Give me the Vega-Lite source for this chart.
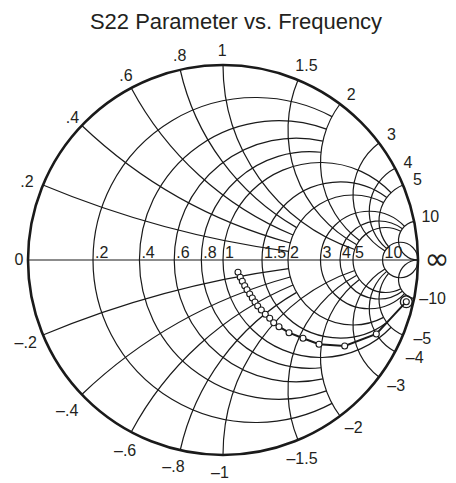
{
  "$schema": "https://vega.github.io/schema/vega-lite/v6.json",
  "autosize": "none",
  "width": 390,
  "height": 390,
  "padding": {"left": 28, "top": 65, "right": 38, "bottom": 28},
  "background": "white",
  "title": {"text": "S22 Parameter vs. Frequency", "font": "Liberation Sans", "fontSize": 22, "fontWeight": "normal", "color": "#231f20", "anchor": "middle", "frame": "group", "dx": 13, "baseline": "alphabetic", "offset": -8},
  "config": {"view": {"stroke": null}},
  "datasets": {
    "outer": [{"cx": 0, "cy": 0, "R": 1, "t1": 0, "t2": 6.4}],
    "grid": [
      {"kind": "r", "v": 0.2, "cx": 0.166667, "cy": 0, "R": 0.833333, "t1": -3.63155, "t2": 0.489958},
      {"kind": "r", "v": 0.4, "cx": 0.285714, "cy": 0, "R": 0.714286, "t1": -3.490937, "t2": 0.349345},
      {"kind": "r", "v": 0.6, "cx": 0.375, "cy": 0, "R": 0.625, "t1": -3.362906, "t2": 0.221314},
      {"kind": "r", "v": 0.8, "cx": 0.444444, "cy": 0, "R": 0.555556, "t1": -3.246758, "t2": 0.105166},
      {"kind": "r", "v": 1, "cx": 0.5, "cy": 0, "R": 0.5, "t1": -3.951376, "t2": 0.809784},
      {"kind": "r", "v": 1.5, "cx": 0.6, "cy": 0, "R": 0.4, "t1": -3.785093, "t2": 0.643501},
      {"kind": "r", "v": 2, "cx": 0.666667, "cy": 0, "R": 0.333333, "t1": -3.63155, "t2": 0.489958},
      {"kind": "r", "v": 3, "cx": 0.75, "cy": 0, "R": 0.25, "t1": -3.951376, "t2": 0.809784},
      {"kind": "r", "v": 4, "cx": 0.8, "cy": 0, "R": 0.2, "t1": -3.785093, "t2": 0.643501},
      {"kind": "r", "v": 5, "cx": 0.833333, "cy": 0, "R": 0.166667, "t1": -3.63155, "t2": 0.489958},
      {"kind": "r", "v": 10, "cx": 0.909091, "cy": 0, "R": 0.090909, "t1": -4.712389, "t2": 1.570796},
      {"kind": "x", "v": 0.2, "cx": 1, "cy": 5, "R": 5, "t1": 3.536384, "t2": 3.27473},
      {"kind": "x", "v": 0.4, "cx": 1, "cy": 2.5, "R": 2.5, "t1": 3.902606, "t2": 3.406697},
      {"kind": "x", "v": 0.6, "cx": 1, "cy": 1.666667, "R": 1.666667, "t1": 4.222432, "t2": 3.536384},
      {"kind": "x", "v": 0.8, "cx": 1, "cy": 1.25, "R": 1.25, "t1": 4.491075, "t2": 3.662797},
      {"kind": "x", "v": 1, "cx": 1, "cy": 1, "R": 1, "t1": 4.712389, "t2": 3.47189},
      {"kind": "x", "v": 1.5, "cx": 1, "cy": 0.666667, "R": 0.666667, "t1": 5.10718, "t2": 3.63155},
      {"kind": "x", "v": 2, "cx": 1, "cy": 0.5, "R": 0.5, "t1": 5.35589, "t2": 3.785094},
      {"kind": "x", "v": 3, "cx": 1, "cy": 0.333333, "R": 0.333333, "t1": 5.639685, "t2": 3.674097},
      {"kind": "x", "v": 4, "cx": 1, "cy": 0.25, "R": 0.25, "t1": 5.793228, "t2": 3.839135},
      {"kind": "x", "v": 5, "cx": 1, "cy": 0.2, "R": 0.2, "t1": 5.888395, "t2": 3.994847},
      {"kind": "x", "v": 10, "cx": 1, "cy": 0.1, "R": 0.1, "t1": 6.083848, "t2": 3.141593},
      {"kind": "x", "v": -0.2, "cx": 1, "cy": -5, "R": 5, "t1": -0.394791, "t2": -0.133137},
      {"kind": "x", "v": -0.4, "cx": 1, "cy": -2.5, "R": 2.5, "t1": -0.761013, "t2": -0.265104},
      {"kind": "x", "v": -0.6, "cx": 1, "cy": -1.666667, "R": 1.666667, "t1": -1.080839, "t2": -0.394791},
      {"kind": "x", "v": -0.8, "cx": 1, "cy": -1.25, "R": 1.25, "t1": -1.349482, "t2": -0.521204},
      {"kind": "x", "v": -1, "cx": 1, "cy": -1, "R": 1, "t1": -1.570796, "t2": -0.330297},
      {"kind": "x", "v": -1.5, "cx": 1, "cy": -0.666667, "R": 0.666667, "t1": -1.965587, "t2": -0.489957},
      {"kind": "x", "v": -2, "cx": 1, "cy": -0.5, "R": 0.5, "t1": -2.214297, "t2": -0.643501},
      {"kind": "x", "v": -3, "cx": 1, "cy": -0.333333, "R": 0.333333, "t1": -2.498092, "t2": -0.532504},
      {"kind": "x", "v": -4, "cx": 1, "cy": -0.25, "R": 0.25, "t1": -2.651635, "t2": -0.697542},
      {"kind": "x", "v": -5, "cx": 1, "cy": -0.2, "R": 0.2, "t1": -2.746802, "t2": -0.853254},
      {"kind": "x", "v": -10, "cx": 1, "cy": -0.1, "R": 0.1, "t1": -2.942255, "t2": 0}
    ],
    "axisline": [{"x1": -1, "x2": 1, "y": 0}],
    "s22": [
      {"n": 1, "re": 0.0769, "im": -0.0631},
      {"n": 2, "re": 0.0887, "im": -0.0887},
      {"n": 3, "re": 0.0990, "im": -0.1092},
      {"n": 4, "re": 0.1113, "im": -0.1318},
      {"n": 5, "re": 0.1231, "im": -0.1523},
      {"n": 6, "re": 0.1369, "im": -0.1744},
      {"n": 7, "re": 0.1503, "im": -0.1949},
      {"n": 8, "re": 0.1641, "im": -0.2154},
      {"n": 9, "re": 0.1779, "im": -0.2359},
      {"n": 10, "re": 0.1964, "im": -0.2564},
      {"n": 11, "re": 0.2169, "im": -0.2785},
      {"n": 12, "re": 0.2395, "im": -0.2990},
      {"n": 13, "re": 0.2600, "im": -0.3215},
      {"n": 14, "re": 0.2872, "im": -0.3421},
      {"n": 15, "re": 0.3385, "im": -0.3728},
      {"n": 16, "re": 0.4103, "im": -0.4015},
      {"n": 17, "re": 0.4923, "im": -0.4323},
      {"n": 18, "re": 0.6241, "im": -0.4410},
      {"n": 19, "re": 0.7862, "im": -0.3795},
      {"n": 20, "re": 0.9400, "im": -0.2138}
    ],
    "rlab": [
      {"t": ".2", "g": -0.666667},
      {"t": ".4", "g": -0.428571},
      {"t": ".6", "g": -0.25},
      {"t": ".8", "g": -0.111111},
      {"t": "1", "g": 0},
      {"t": "1.5", "g": 0.2},
      {"t": "2", "g": 0.333333},
      {"t": "3", "g": 0.5},
      {"t": "4", "g": 0.6},
      {"t": "5", "g": 0.666667},
      {"t": "10", "g": 0.818182}
    ],
    "xlab": [
      {"t": "0", "gx": -1.046, "gy": 0},
      {"t": ".2", "gx": -1.005, "gy": 0.400},
      {"t": ".4", "gx": -0.772, "gy": 0.728},
      {"t": ".6", "gx": -0.498, "gy": 0.942},
      {"t": ".8", "gx": -0.222, "gy": 1.047},
      {"t": "1", "gx": -0.004, "gy": 1.073},
      {"t": "1.5", "gx": 0.428, "gy": 0.993},
      {"t": "2", "gx": 0.658, "gy": 0.848},
      {"t": "3", "gx": 0.864, "gy": 0.640},
      {"t": "4", "gx": 0.949, "gy": 0.500},
      {"t": "5", "gx": 0.997, "gy": 0.408},
      {"t": "10", "gx": 1.063, "gy": 0.218},
      {"t": "–.2", "gx": -1.012, "gy": -0.425},
      {"t": "–.4", "gx": -0.799, "gy": -0.772},
      {"t": "–.6", "gx": -0.502, "gy": -0.980},
      {"t": "–.8", "gx": -0.254, "gy": -1.062},
      {"t": "–1", "gx": -0.016, "gy": -1.092},
      {"t": "–1.5", "gx": 0.405, "gy": -1.020},
      {"t": "–2", "gx": 0.670, "gy": -0.860},
      {"t": "–3", "gx": 0.888, "gy": -0.645},
      {"t": "–4", "gx": 0.983, "gy": -0.502},
      {"t": "–5", "gx": 1.022, "gy": -0.405},
      {"t": "–10", "gx": 1.075, "gy": -0.200}
    ],
    "inf": [{"t": "∞", "gx": 1.097, "gy": 0}]
  },
  "layer": [
    {
      "data": {"name": "grid"},
      "mark": {"type": "arc", "filled": false, "color": "#1a1a1a", "strokeWidth": 1.2, "clip": true},
      "encoding": {
        "x": {"field": "cx", "type": "quantitative", "scale": {"domain": [-1, 1], "nice": false, "zero": false}, "axis": null},
        "y": {"field": "cy", "type": "quantitative", "scale": {"domain": [-1, 1], "nice": false, "zero": false}, "axis": null},
        "radius": {"field": "R", "type": "quantitative", "scale": {"type": "linear", "domain": [0, 1], "range": [0, 195], "zero": true}},
        "radius2": {"field": "R"},
        "theta": {"field": "t1", "type": "quantitative", "scale": null, "stack": null},
        "theta2": {"field": "t2"}
      }
    },
    {
      "data": {"name": "outer"},
      "mark": {"type": "arc", "filled": false, "color": "#1a1a1a", "strokeWidth": 2.6},
      "encoding": {
        "x": {"field": "cx", "type": "quantitative", "scale": {"domain": [-1, 1], "nice": false, "zero": false}, "axis": null},
        "y": {"field": "cy", "type": "quantitative", "scale": {"domain": [-1, 1], "nice": false, "zero": false}, "axis": null},
        "radius": {"field": "R", "type": "quantitative", "scale": {"type": "linear", "domain": [0, 1], "range": [0, 195], "zero": true}},
        "theta": {"field": "t1", "type": "quantitative", "scale": null, "stack": null},
        "theta2": {"field": "t2"}
      }
    },
    {
      "data": {"name": "axisline"},
      "mark": {"type": "rule", "color": "#1a1a1a", "strokeWidth": 1.2},
      "encoding": {
        "x": {"field": "x1", "type": "quantitative", "scale": {"domain": [-1, 1], "nice": false, "zero": false}, "axis": null},
        "x2": {"field": "x2"},
        "y": {"field": "y", "type": "quantitative", "scale": {"domain": [-1, 1], "nice": false, "zero": false}, "axis": null}
      }
    },
    {
      "data": {"name": "s22"},
      "mark": {"type": "line", "color": "#1a1a1a", "strokeWidth": 2},
      "encoding": {
        "x": {"field": "re", "type": "quantitative", "scale": {"domain": [-1, 1], "nice": false, "zero": false}, "axis": null},
        "y": {"field": "im", "type": "quantitative", "scale": {"domain": [-1, 1], "nice": false, "zero": false}, "axis": null},
        "order": {"field": "n", "type": "quantitative"}
      }
    },
    {
      "data": {"name": "s22"},
      "mark": {"type": "point", "shape": "circle", "filled": true, "fill": "white", "stroke": "#1a1a1a", "strokeWidth": 1.1, "size": 36, "opacity": 1},
      "encoding": {
        "x": {"field": "re", "type": "quantitative", "scale": {"domain": [-1, 1], "nice": false, "zero": false}, "axis": null},
        "y": {"field": "im", "type": "quantitative", "scale": {"domain": [-1, 1], "nice": false, "zero": false}, "axis": null}
      }
    },
    {
      "data": {"name": "s22"},
      "transform": [{"filter": {"field": "n", "equal": 20}}],
      "mark": {"type": "point", "shape": "circle", "filled": false, "color": "#1a1a1a", "strokeWidth": 1.4, "size": 140, "opacity": 1},
      "encoding": {
        "x": {"field": "re", "type": "quantitative", "scale": {"domain": [-1, 1], "nice": false, "zero": false}, "axis": null},
        "y": {"field": "im", "type": "quantitative", "scale": {"domain": [-1, 1], "nice": false, "zero": false}, "axis": null}
      }
    },
    {
      "data": {"name": "rlab"},
      "mark": {"type": "text", "font": "Liberation Sans", "fontSize": 16, "color": "#231f20", "align": "left", "baseline": "alphabetic", "dx": 2, "dy": -2},
      "encoding": {
        "x": {"field": "g", "type": "quantitative", "scale": {"domain": [-1, 1], "nice": false, "zero": false}, "axis": null},
        "y": {"datum": 0, "type": "quantitative", "scale": {"domain": [-1, 1], "nice": false, "zero": false}, "axis": null},
        "text": {"field": "t"}
      }
    },
    {
      "data": {"name": "xlab"},
      "mark": {"type": "text", "font": "Liberation Sans", "fontSize": 16, "color": "#231f20", "align": "center", "baseline": "middle"},
      "encoding": {
        "x": {"field": "gx", "type": "quantitative", "scale": {"domain": [-1, 1], "nice": false, "zero": false}, "axis": null},
        "y": {"field": "gy", "type": "quantitative", "scale": {"domain": [-1, 1], "nice": false, "zero": false}, "axis": null},
        "text": {"field": "t"}
      }
    },
    {
      "data": {"name": "inf"},
      "mark": {"type": "text", "font": "DejaVu Sans", "fontSize": 30, "color": "#231f20", "align": "center", "baseline": "middle"},
      "encoding": {
        "x": {"field": "gx", "type": "quantitative", "scale": {"domain": [-1, 1], "nice": false, "zero": false}, "axis": null},
        "y": {"field": "gy", "type": "quantitative", "scale": {"domain": [-1, 1], "nice": false, "zero": false}, "axis": null},
        "text": {"field": "t"}
      }
    }
  ]
}
